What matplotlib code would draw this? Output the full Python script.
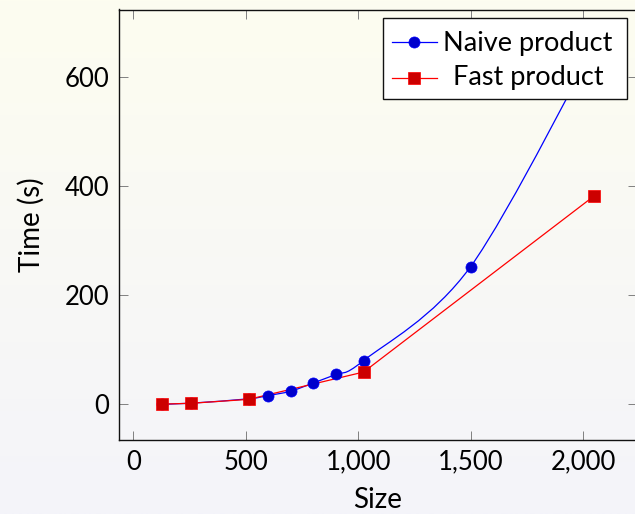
import numpy as np
import matplotlib
matplotlib.use("Agg")
import matplotlib.pyplot as plt
from matplotlib.path import Path
from matplotlib.patches import PathPatch, Rectangle
from matplotlib.lines import Line2D
from matplotlib.ticker import StrMethodFormatter

# ---- data ----
naive_size = [128, 256, 512, 600, 700, 800, 900, 1024, 1500, 2048]
naive_time = [0.3, 2, 10, 16, 24, 39, 55, 80, 252, 657]
fast_size = [128, 256, 512, 1024, 2048]
fast_time = [0.3, 1.8, 9, 59, 381]
x_ticks = [0, 500, 1000, 1500, 2000]
y_ticks = [0, 200, 400, 600]
series_labels = ["Naive product", "Fast product"]

W, H = 635, 514
plt.rcParams['font.family'] = ['Lato', 'DejaVu Sans']

fig = plt.figure(figsize=(W / 100, H / 100), dpi=100)

# background gradient
bg = fig.add_axes([0, 0, 1, 1], zorder=-10)
top = np.array([253, 253, 240]) / 255
bot = np.array([244, 244, 250]) / 255
t = np.linspace(0, 1, 256)[:, None]
grad = (top[None, :] * (1 - t) + bot[None, :] * t)[:, None, :]
bg.imshow(grad, aspect='auto', extent=[0, 1, 0, 1])
bg.axis('off')

L, R, T, B = 119, 637, 9.5, 440
ax = fig.add_axes([L / W, 1 - B / H, (R - L) / W, (B - T) / H])
ax.set_facecolor('none')
ax.set_xlim(-64, 2240)
ax.set_ylim(-65.4, 722.7)


def smooth_path(xs, ys, tension=0.165):
    p = np.column_stack([xs, ys]).astype(float)
    n = len(p)
    verts = [p[0]]
    codes = [Path.MOVETO]
    for i in range(1, n):
        if i - 1 == 0:
            c1 = p[0]
        else:
            c1 = p[i - 1] + tension * (p[i] - p[i - 2])
        if i == n - 1:
            c2 = p[i]
        else:
            c2 = p[i] - tension * (p[i + 1] - p[i - 1])
        verts += [c1, c2, p[i]]
        codes += [Path.CURVE4] * 3
    return Path(verts, codes)


blue_line, red_line = '#0000ff', '#ff0000'
blue_fill, red_fill = '#0000cc', '#cc0000'

ax.add_patch(PathPatch(smooth_path(naive_size, naive_time), fill=False,
                       edgecolor=blue_line, lw=0.9, zorder=2))
ax.plot(fast_size, fast_time, color=red_line, lw=0.9, zorder=2.1)
ax.plot(naive_size, naive_time, ls='none', marker='o', ms=8,
        mfc=blue_fill, mec=blue_line, mew=0.5, zorder=3)
ax.plot(fast_size, fast_time, ls='none', marker='s', ms=8.4,
        mfc=red_fill, mec=red_line, mew=0.5, zorder=3.1)

ax.set_xticks(x_ticks)
ax.set_yticks(y_ticks)
ax.xaxis.set_major_formatter(StrMethodFormatter('{x:,.0f}'))
ax.tick_params(direction='in', top=True, right=True, length=6.5, width=0.7,
               color='#808080', labelsize=18.5, pad=7)
for s in ax.spines.values():
    s.set_linewidth(1.0)
    s.set_color('#111111')

ax.set_xlabel('Size', fontsize=20, labelpad=9)
ax.set_ylabel('Time (s)', fontsize=20, labelpad=14)


def fx(x):
    return x / W


def fy(y):
    return 1 - y / H


# legend (pgfplots style, entries centred)
fig.add_artist(Rectangle((fx(383), fy(99)), fx(626.7) - fx(383), fy(18.3) - fy(99),
                         transform=fig.transFigure, facecolor='white',
                         edgecolor='#111111', lw=1.0, zorder=5))
rows = [(41.7, blue_line, blue_fill, 'o', 8, 43.5),
        (77.7, red_line, red_fill, 's', 8.4, 77.0)]
for (yy, lc, fc, mk, ms, ty), lab in zip(rows, series_labels):
    fig.add_artist(Line2D([fx(391.5), fx(437)], [fy(yy), fy(yy)], transform=fig.transFigure,
                          color=lc, lw=0.9, zorder=6))
    fig.add_artist(Line2D([fx(414)], [fy(yy)], transform=fig.transFigure, ls='none',
                          marker=mk, ms=ms, mfc=fc, mec=lc, mew=0.5, zorder=7))
    fig.text(fx(528), fy(ty), lab, ha='center', va='center', fontsize=19.5, zorder=8)

fig.savefig('out.png', dpi=100)
